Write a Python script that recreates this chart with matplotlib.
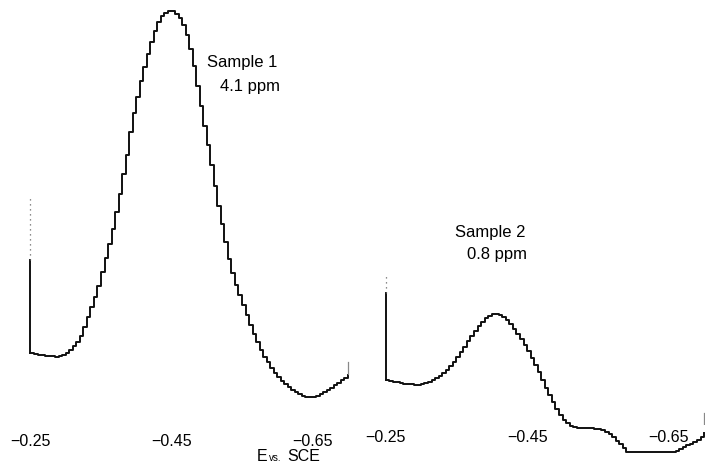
import matplotlib
matplotlib.use("Agg")
import matplotlib.pyplot as plt
import numpy as np

plt.rcParams['font.family'] = ['Liberation Sans', 'DejaVu Sans']

# staircase scans, 5 mV steps from -0.25 V to -0.70 V vs. SCE
potential = [round(-0.25 - 0.005 * k, 3) for k in range(91)]

# sample 1 (4.1 ppm), current in arbitrary units
current_1 = [47, 46, 45.5, 45, 44.5, 44, 44, 43.5, 44, 45,
             47, 50, 54, 58, 64, 73, 83, 93, 103, 114,
             128, 142, 156, 171, 188, 206, 226, 245, 268, 287,
             303, 319, 333, 346, 358, 369, 378, 384, 387, 389,
             389, 386, 382, 375, 365, 351, 334, 314, 294, 274,
             255, 235, 214, 194, 176, 158, 141, 127, 115, 105,
             95, 85, 75, 66, 58, 50, 43, 38, 32, 27,
             23, 19, 16, 13, 10, 8, 6, 4.5, 3.5, 3,
             3.5, 4.5, 6, 8, 10, 12.5, 15, 17.5, 20, 22.5, 25]
spike_1 = [140, 203]     # charging spike at start (solid, faint top)
tail_1 = [26, 38]        # pen lift at end of scan

# sample 2 (0.8 ppm)
current_2 = [80, 79, 78.5, 78, 77, 76.5, 76, 76, 75.5, 75.5,
             76, 77, 78, 80, 82, 84.5, 87, 90.5, 94, 98.5,
             103, 108, 113.5, 119, 124.5, 129.5, 134, 138.5, 142, 144.5,
             146, 146.5, 145.5, 143, 140, 136, 131.5, 126.5, 121, 115,
             109, 102.5, 95.5, 88, 80, 72, 65, 58, 51.5, 45.5,
             40.5, 37, 34.5, 33, 32.5, 32, 32, 32, 32, 31.5,
             31, 30, 28.5, 26, 23, 19.5, 16, 12, 8.5, 8,
             8, 8, 8, 8, 8, 8, 8, 8, 8, 8,
             8, 8, 9, 11, 13, 15, 16.5, 18.5, 20, 23, 27]
spike_2 = [167, 185]
tail_2 = [27, 47]

ticks = [-0.25, -0.45, -0.65]
tick_labels = ['\u22120.25', '\u22120.45', '\u22120.65']

W, H = 705, 463
fig = plt.figure(figsize=(W / 100, H / 100), dpi=100)

def px(x, y):
    return x / W, (H - y) / H

ax1 = fig.add_axes([0, (H - 425) / H, 360 / W, 425 / H])
ax2 = fig.add_axes([360 / W, (H - 425) / H, 345 / W, 425 / H])

ink = '#111111'
panels = [
    (ax1, current_1, spike_1, tail_1, (-0.20674, -0.71738), (-25, 400), 6.5),
    (ax2, current_2, spike_2, tail_2, (-0.21398, -0.70127), (35, 460), 3.5),
]
for ax, cur, spike, tail, xl, yl, pad in panels:
    ax.plot(potential, cur, drawstyle='steps-post', color=ink, lw=1.4, clip_on=False)
    ax.plot([potential[0]] * 2, [cur[0], spike[0]], color=ink, lw=1.4)
    ax.plot([potential[0]] * 2, spike, color='#666666', lw=0.9, ls=(0, (1, 3)))
    ax.plot([potential[-1]] * 2, tail, color='#888888', lw=0.9)
    ax.set_xlim(*xl)
    ax.set_ylim(*yl)
    ax.set_xticks(ticks)
    ax.set_xticklabels(tick_labels)
    ax.tick_params(axis='x', length=0, pad=pad, labelsize=11.5)
    ax.set_yticks([])
    for s in ax.spines.values():
        s.set_visible(False)
    ax.patch.set_visible(False)

fig.text(*px(207, 62), 'Sample 1', fontsize=12, va='center', ha='left')
fig.text(*px(220, 87), '4.1 ppm', fontsize=12, va='center', ha='left')
fig.text(*px(455, 232), 'Sample 2', fontsize=12, va='center', ha='left')
fig.text(*px(467, 255), '0.8 ppm', fontsize=12, va='center', ha='left')

fig.text(*px(257, 461), 'E', fontsize=11.5, va='baseline', ha='left')
fig.text(*px(269, 461), 'vs.', fontsize=7, va='baseline', ha='left')
fig.text(*px(287, 461), 'SCE', fontsize=11.5, va='baseline', ha='left')

fig.savefig('out.png', dpi=100)
